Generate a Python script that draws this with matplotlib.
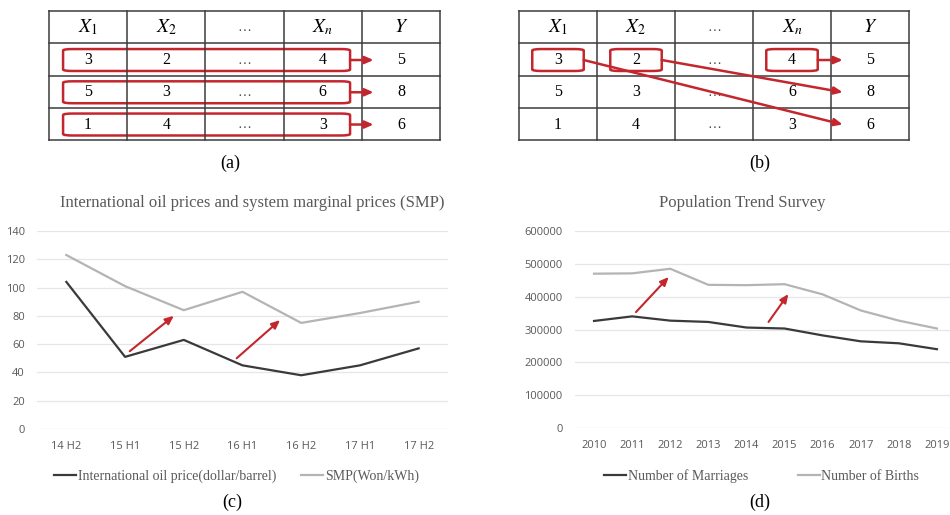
"""
Two toy tables (a, b) and two line charts (c, d) in one 950x515 figure.
"""

import matplotlib
matplotlib.use("Agg")
import matplotlib.pyplot as plt
from matplotlib.patches import FancyBboxPatch

plt.rcParams["mathtext.fontset"] = "stix"

# ── Data ────────────────────────────────────────────────────────────────────
TABLE_HEADERS = ["$X_{\\mathit{1}}$", "$X_{\\mathit{2}}$", "\u2026", "$X_n$", "$Y$"]
TABLE_ROWS = [
    ["3", "2", "\u2026", "4", "5"],
    ["5", "3", "\u2026", "6", "8"],
    ["1", "4", "\u2026", "3", "6"],
]
# (b): boxed cell column in row 1 -> target row of Y
B_LINKS = [(0, 3), (1, 2), (3, 1)]

OIL_PERIODS = ["14 H2", "15 H1", "15 H2", "16 H1", "16 H2", "17 H1", "17 H2"]
OIL_PRICE = [104, 51, 63, 45, 38, 45, 57]
SMP_PRICE = [123, 101, 84, 97, 75, 82, 90]
OIL_ARROWS = [((1.08, 55), (1.83, 80)), ((2.9, 50), (3.64, 77))]

YEARS = ["2010", "2011", "2012", "2013", "2014", "2015", "2016", "2017", "2018", "2019"]
MARRIAGES = [326000, 340000, 327000, 323000, 306000, 303000, 282000, 264000, 258000, 240000]
BIRTHS = [470000, 471000, 485000, 436000, 435000, 438000, 407000, 358000, 327000, 303000]
POP_ARROWS = [((1.1, 353000), (1.96, 460000)), ((4.58, 323000), (5.1, 408000))]

RED = "#C4262E"
DARK = "#3A3A3A"
LIGHT = "#B4B4B4"
TXT = "#595959"
SERIF = "Liberation Serif"

W, H = 950, 515
fig = plt.figure(figsize=(W / 100, H / 100), dpi=100)


def px_axes(left, top, right, bottom):
    return fig.add_axes([left / W, 1 - bottom / H, (right - left) / W, (bottom - top) / H])


# ── Tables ─────────────────────────────────────────────────────────────────
def draw_table(ax):
    ncol, nrow = len(TABLE_HEADERS), len(TABLE_ROWS) + 1
    ax.set_xlim(0, ncol)
    ax.set_ylim(nrow, 0)
    ax.axis("off")
    for c in range(ncol + 1):
        ax.plot([c, c], [0, nrow], color="#3c3c3c", lw=1.1, clip_on=False)
    for r in range(nrow + 1):
        ax.plot([0, ncol], [r, r], color="#3c3c3c", lw=1.1, clip_on=False)
    for c, h in enumerate(TABLE_HEADERS):
        ax.text(c + 0.5, 0.5, h, ha="center", va="center", fontsize=14 if h != "\u2026" else 10,
                color="black" if h != "\u2026" else "#444444", family=SERIF)
    for r, row in enumerate(TABLE_ROWS, start=1):
        for c, v in enumerate(row):
            ax.text(c + 0.5, r + 0.52, v, ha="center", va="center", fontsize=11.5 if v != "\u2026" else 10,
                    color="black" if v != "\u2026" else "#444444", family=SERIF)


def red_box(ax, x0, x1, y0, y1):
    ax.add_patch(FancyBboxPatch((x0, y0), x1 - x0, y1 - y0,
                                boxstyle="round,pad=0,rounding_size=0.12",
                                fill=False, ec=RED, lw=1.8, mutation_aspect=0.4))


def red_arrow(ax, start, end, lw=1.8):
    ax.annotate("", xy=end, xytext=start,
                arrowprops=dict(arrowstyle="-|>,head_length=0.5,head_width=0.22",
                                color=RED, lw=lw, shrinkA=0, shrinkB=0))


ax_a = px_axes(49, 11, 440, 140)
draw_table(ax_a)
for r in range(1, len(TABLE_ROWS) + 1):
    red_box(ax_a, 0.18, 3.85, r + 0.18, r + 0.86)
    red_arrow(ax_a, (3.85, r + 0.52), (4.15, r + 0.52))

ax_b = px_axes(519, 11, 909, 140)
draw_table(ax_b)
for col, target in B_LINKS:
    red_box(ax_b, col + 0.17, col + 0.83, 1.18, 1.86)
    red_arrow(ax_b, (col + 0.83, 1.52), (4.15, target + 0.52))

fig.text(230 / W, 1 - 163 / H, "(a)", ha="center", va="center", fontsize=13, family=SERIF)
fig.text(760 / W, 1 - 163 / H, "(b)", ha="center", va="center", fontsize=13, family=SERIF)


# ── Line charts ────────────────────────────────────────────────────────────
def style_chart(ax, labels, ymax, ystep, title):
    x = range(len(labels))
    ax.set_xticks(list(x))
    ax.set_xticklabels(labels)
    ax.set_yticks(range(0, ymax + 1, ystep))
    ax.set_ylim(0, ymax)
    ax.grid(axis="y", color="#E6E6E6", lw=0.9)
    ax.set_axisbelow(True)
    for s in ax.spines.values():
        s.set_visible(False)
    ax.tick_params(length=0, labelsize=8, labelcolor=TXT)
    ax.tick_params(axis="x", pad=8.5)
    ax.tick_params(axis="y", pad=8.8)
    for t in ax.get_xticklabels() + ax.get_yticklabels():
        t.set_family("Open Sans")
    ax.set_title(title, family=SERIF, fontsize=12, color=TXT, pad=17)


ax_c = px_axes(37, 231, 448, 429)
xc = range(len(OIL_PERIODS))
ax_c.plot(xc, OIL_PRICE, color=DARK, lw=1.6, label="International oil price(dollar/barrel)")
ax_c.plot(xc, SMP_PRICE, color=LIGHT, lw=1.6, label="SMP(Won/kWh)")
ax_c.set_xlim(-0.5, len(OIL_PERIODS) - 0.5)
style_chart(ax_c, OIL_PERIODS, 140, 20,
            "International oil prices and system marginal prices (SMP)")
ax_c.title.set_position((0.523, 1))
for s, e in OIL_ARROWS:
    red_arrow(ax_c, s, e, lw=1.5)
ax_c.legend(loc="center", bbox_to_anchor=(0.485, -0.237), ncol=2, frameon=False,
            prop={"family": SERIF, "size": 10}, labelcolor=TXT, handlelength=1.6,
            handletextpad=0.1, columnspacing=1.8)

ax_d = px_axes(575, 231, 956, 428)
xd = range(len(YEARS))
ax_d.plot(xd, MARRIAGES, color=DARK, lw=1.6, label="Number of Marriages")
ax_d.plot(xd, BIRTHS, color=LIGHT, lw=1.6, label="Number of Births")
ax_d.set_xlim(-0.5, len(YEARS) - 0.5)
style_chart(ax_d, YEARS, 600000, 100000, "Population Trend Survey")
ax_d.title.set_position((0.44, 1))
for s, e in POP_ARROWS:
    red_arrow(ax_d, s, e, lw=1.5)
ax_d.legend(loc="center", bbox_to_anchor=(0.49, -0.245), ncol=2, frameon=False,
            prop={"family": SERIF, "size": 10}, labelcolor=TXT, handlelength=1.6,
            handletextpad=0.1, columnspacing=3.6)

fig.text(232 / W, 1 - 502 / H, "(c)", ha="center", va="center", fontsize=13, family=SERIF)
fig.text(760 / W, 1 - 502 / H, "(d)", ha="center", va="center", fontsize=13, family=SERIF)

fig.savefig("out.png", dpi=100)
